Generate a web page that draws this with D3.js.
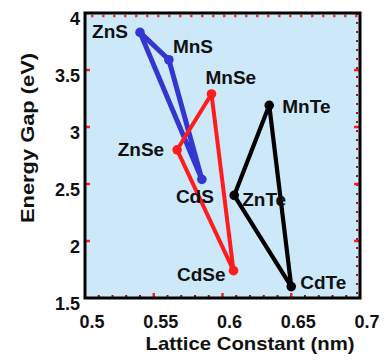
<!DOCTYPE html>
<html>
<head>
<meta charset="utf-8">
<script src="https://cdn.jsdelivr.net/npm/d3@7"></script>
<style>
  html, body { margin: 0; padding: 0; background: #ffffff; }
  svg { display: block; }
  text { font-family: "Liberation Sans", Arial, sans-serif; font-weight: bold; fill: #111; }
</style>
</head>
<body>
<script>
// II-VI compound semiconductors: lattice constant (nm) vs band gap (eV)
const sulfides   = ["ZnS", "MnS", "CdS"];
const sulfideA   = [0.540, 0.561, 0.585];
const sulfideEg  = [3.83, 3.59, 2.54];

const selenides  = ["ZnSe", "MnSe", "CdSe"];
const selenideA  = [0.567, 0.592, 0.608];
const selenideEg = [2.80, 3.29, 1.74];

const tellurides  = ["ZnTe", "MnTe", "CdTe"];
const tellurideA  = [0.6085, 0.634, 0.650];
const tellurideEg = [2.40, 3.19, 1.60];

const xTicks = [0.5, 0.55, 0.6, 0.65, 0.7];
const yTicks = [1.5, 2, 2.5, 3, 3.5, 4];

const W = 386, H = 361;
const plotL = 85, plotR = 360, plotT = 13, plotB = 298;

const x = d3.scaleLinear().domain([0.5, 0.7]).range([plotL, plotR]);
const y = d3.scaleLinear().domain([1.5, 4]).range([plotB, plotT]);

const svg = d3.select("body").append("svg").attr("width", W).attr("height", H);

// plot background
svg.append("rect")
  .attr("x", plotL).attr("y", plotT)
  .attr("width", plotR - plotL).attr("height", plotB - plotT)
  .attr("fill", "#cde9f9");

// label placement (dx, dy, anchor) per compound
const labelPos = {
  ZnS:  [-12, 6, "end"],
  MnS:  [4, -7, "start"],
  CdS:  [-7, 24, "middle"],
  ZnSe: [-13, 6, "end"],
  MnSe: [-6, -10, "start"],
  CdSe: [-8, 10, "end"],
  ZnTe: [8, 11, "start"],
  MnTe: [13, 8, "start"],
  CdTe: [9, 2, "start"]
};

const groups = [
  { names: sulfides,   a: sulfideA,   eg: sulfideEg,   color: "#3535cf", width: 5 },
  { names: selenides,  a: selenideA,  eg: selenideEg,  color: "#ff1c1c", width: 4 },
  { names: tellurides, a: tellurideA, eg: tellurideEg, color: "#000000", width: 4.2 }
];

const line = d3.line().x(d => x(d.a)).y(d => y(d.eg));

groups.forEach(g => {
  const pts = g.names.map((n, i) => ({ name: n, a: g.a[i], eg: g.eg[i] }));
  svg.append("path")
    .datum(pts.concat([pts[0]]))
    .attr("d", line)
    .attr("fill", "none")
    .attr("stroke", g.color)
    .attr("stroke-width", g.width)
    .attr("stroke-linejoin", "round");
  svg.selectAll(null).data(pts).enter().append("circle")
    .attr("cx", d => x(d.a)).attr("cy", d => y(d.eg))
    .attr("r", 4.8)
    .attr("fill", g.color);
});

// compound labels
groups.forEach(g => {
  g.names.forEach((n, i) => {
    const p = labelPos[n];
    svg.append("text")
      .attr("x", x(g.a[i]) + p[0])
      .attr("y", y(g.eg[i]) + p[1])
      .attr("text-anchor", p[2])
      .attr("font-size", 19)
      .text(n);
  });
});

// minor ticks
const xMinor = d3.range(0.51, 0.70, 0.01).filter(v => Math.abs(v * 20 - Math.round(v * 20)) > 1e-6);
svg.selectAll(null).data(xMinor).enter().append("line")
  .attr("x1", d => x(d)).attr("x2", d => x(d))
  .attr("y1", plotB).attr("y2", plotB - 3)
  .attr("stroke", "#8a1010").attr("stroke-width", 2);

// top and right edges carry dotted red tick rows
svg.append("line")
  .attr("x1", plotL + 6).attr("x2", plotR)
  .attr("y1", plotT + 3).attr("y2", plotT + 3)
  .attr("stroke", "#ff2a2a").attr("stroke-width", 2.5)
  .attr("stroke-dasharray", "2.5,8.5");
svg.append("line")
  .attr("x1", plotR - 3).attr("x2", plotR - 3)
  .attr("y1", plotT).attr("y2", plotB)
  .attr("stroke", "#a01818").attr("stroke-width", 2)
  .attr("stroke-dasharray", "2,7");

// major ticks (red, inward)
svg.selectAll(null).data(xTicks.slice(1, -1)).enter().append("line")
  .attr("x1", d => x(d)).attr("x2", d => x(d))
  .attr("y1", plotB).attr("y2", plotB - 5)
  .attr("stroke", "#ff1c1c").attr("stroke-width", 2.5);
svg.selectAll(null).data(yTicks.slice(1, -1)).enter().append("line")
  .attr("x1", plotL).attr("x2", plotL + 5)
  .attr("y1", d => y(d)).attr("y2", d => y(d))
  .attr("stroke", "#ff1c1c").attr("stroke-width", 2.5);
svg.selectAll(null).data(yTicks.slice(1, -1)).enter().append("line")
  .attr("x1", plotR).attr("x2", plotR - 6)
  .attr("y1", d => y(d)).attr("y2", d => y(d))
  .attr("stroke", "#ff1c1c").attr("stroke-width", 2.5);

// frame
svg.append("rect")
  .attr("x", plotL).attr("y", plotT)
  .attr("width", plotR - plotL).attr("height", plotB - plotT)
  .attr("fill", "none").attr("stroke", "#000").attr("stroke-width", 3);

// tick labels
svg.selectAll(null).data(xTicks).enter().append("text")
  .attr("x", d => x(d) + 7).attr("y", 328)
  .attr("text-anchor", "middle").attr("font-size", 18)
  .text(d => d3.format("")(d));
svg.selectAll(null).data(yTicks).enter().append("text")
  .attr("x", 80).attr("y", d => y(d) + 12)
  .attr("text-anchor", "end").attr("font-size", 18)
  .text(d => d3.format("")(d));

// axis titles
svg.append("text")
  .attr("x", 250).attr("y", 350)
  .attr("text-anchor", "middle").attr("font-size", 19)
  .attr("textLength", 209).attr("lengthAdjust", "spacingAndGlyphs")
  .text("Lattice Constant (nm)");
svg.append("text")
  .attr("transform", "translate(34,138) rotate(-90)")
  .attr("text-anchor", "middle").attr("font-size", 19)
  .attr("textLength", 170).attr("lengthAdjust", "spacingAndGlyphs")
  .text("Energy Gap (eV)");
</script>
</body>
</html>
